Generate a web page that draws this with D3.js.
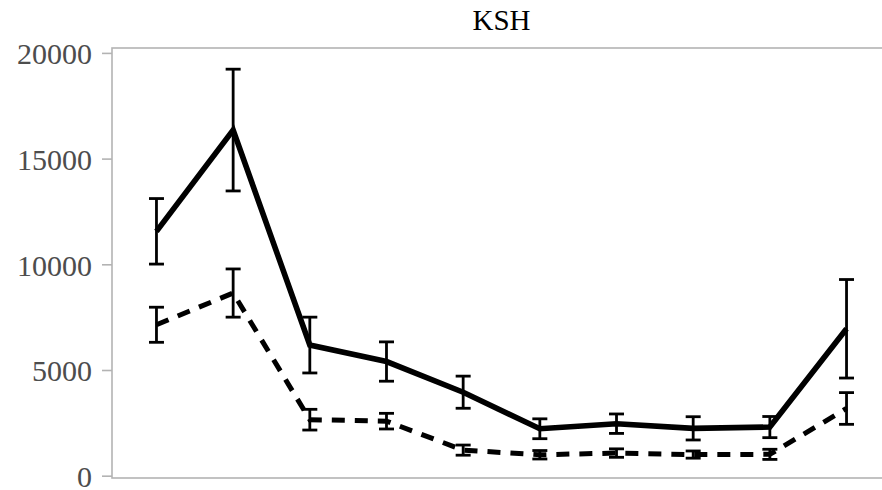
<!DOCTYPE html>
<html>
<head>
<meta charset="utf-8">
<script src="https://cdn.jsdelivr.net/npm/d3@7"></script>
<style>
  body { margin: 0; background: #fff; }
  svg { display: block; font-family: "Liberation Serif", "DejaVu Serif", serif; }
</style>
</head>
<body>
<div id="chart"></div>
<script>
(function(){
  'use strict';

  var title = 'KSH';
  var groups = ['1','2','3','4','5','6','7','8','9','10'];
  var yTicks = [0, 5000, 10000, 15000, 20000];

  // solid series: means and error half-widths
  var solidMean = [11560, 16350, 6180, 5400, 3950, 2220, 2460, 2240, 2300, 6950];
  var solidErr  = [1550, 2880, 1320, 930, 760, 470, 460, 550, 500, 2330];

  // dashed series
  var dashMean = [7140, 8640, 2650, 2580, 1210, 990, 1070, 1000, 1010, 3180];
  var dashErr  = [830, 1140, 490, 370, 240, 200, 200, 170, 240, 750];

  var w = 882,
      h = 490,
      left = 112,
      top = 48,
      bottom = 478,
      right = 891;

  var svg = d3.select('#chart').append('svg')
    .attr('width', w)
    .attr('height', h);

  var x = d3.scalePoint()
    .domain(groups)
    .range([left, right])
    .padding(0.58);

  var y = d3.scaleLinear()
    .domain([0, 20000])
    .range([475.7, 52.9]);

  // panel border
  svg.append('rect')
    .attr('x', left)
    .attr('y', top)
    .attr('width', 900 - left)
    .attr('height', bottom - top)
    .style('fill', 'none')
    .style('stroke', '#b3b3b3')
    .style('stroke-width', 1.6);

  var yAxis = d3.axisLeft(y)
    .tickValues(yTicks)
    .tickSize(10)
    .tickPadding(10)
    .tickFormat(d3.format('d'));

  var gy = svg.append('g')
    .attr('class', 'y axis')
    .attr('transform', 'translate(' + left + ',0)')
    .call(yAxis);
  gy.select('.domain').remove();
  gy.selectAll('.tick line')
    .style('stroke', '#b3b3b3')
    .style('stroke-width', 1.6);
  gy.selectAll('.tick text')
    .attr('dy', '0.36em')
    .style('fill', '#4d4d4d')
    .style('font-size', '30px')
    .style('font-family', '"Liberation Serif", serif');

  svg.append('text')
    .attr('x', 501.5)
    .attr('y', 29.5)
    .attr('text-anchor', 'middle')
    .style('font-size', '29px')
    .style('fill', '#000')
    .text(title);

  var series = [
    {name: 'solid', mean: solidMean, err: solidErr, dash: null, sw: 5.6},
    {name: 'dashed', mean: dashMean, err: dashErr, dash: '13,10', sw: 5}
  ];

  var line = d3.line()
    .x(function(d){ return x(d.g); })
    .y(function(d){ return y(d.m); });

  series.forEach(function(s){
    var pts = groups.map(function(g, i){
      return {g: g, m: s.mean[i], e: s.err[i]};
    });

    svg.append('path')
      .datum(pts)
      .attr('d', line)
      .style('fill', 'none')
      .style('stroke', '#000')
      .style('stroke-width', s.sw)
      .style('stroke-dasharray', s.dash);

    var eb = svg.append('g').selectAll('g')
      .data(pts)
      .enter()
      .append('g')
      .style('stroke', '#000')
      .style('stroke-width', 2.8);

    eb.append('line')
      .attr('x1', function(d){ return x(d.g); })
      .attr('x2', function(d){ return x(d.g); })
      .attr('y1', function(d){ return y(d.m + d.e); })
      .attr('y2', function(d){ return y(d.m - d.e); });

    [1, -1].forEach(function(sign){
      eb.append('line')
        .attr('x1', function(d){ return x(d.g) - 7.5; })
        .attr('x2', function(d){ return x(d.g) + 7.5; })
        .attr('y1', function(d){ return y(d.m + sign * d.e); })
        .attr('y2', function(d){ return y(d.m + sign * d.e); });
    });
  });
}());
</script>
</body>
</html>
